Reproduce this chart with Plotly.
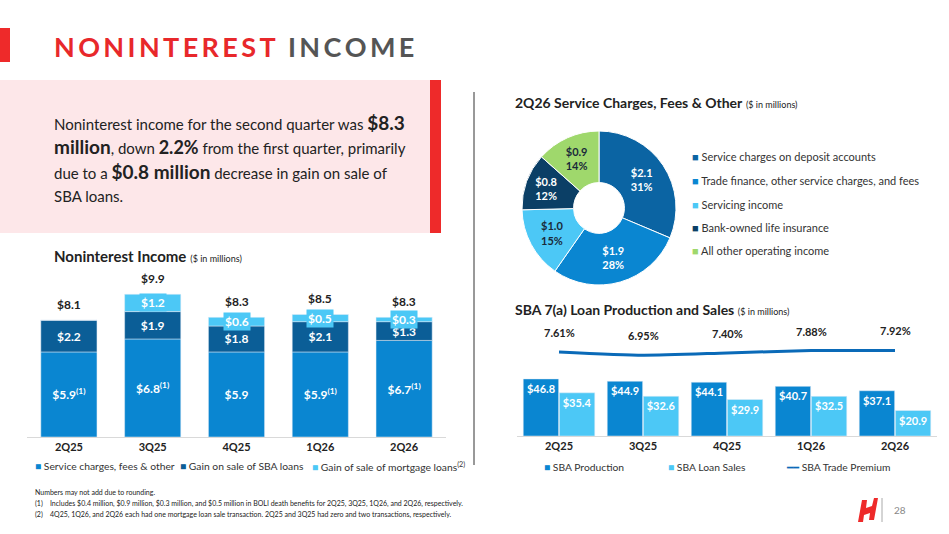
import plotly.graph_objects as go

W, H = 949, 534
FONT = "Lato"

# ── Noninterest income (stacked) ──────────────────────────────────────────
quarters = ["2Q25", "3Q25", "4Q25", "1Q26", "2Q26"]
service_fees = [5.9, 6.8, 5.9, 5.9, 6.7]
service_note = [True, True, False, True, True]
sba_gain = [2.2, 1.9, 1.8, 2.1, 1.3]
mortgage_gain = [0.0, 1.2, 0.6, 0.5, 0.3]
totals = [8.1, 9.9, 8.3, 8.5, 8.3]

# ── 2Q26 service charges donut ────────────────────────────────────────────
pie_labels = ["Service charges on deposit accounts",
              "Trade finance, other service charges, and fees",
              "Servicing income", "Bank-owned life insurance",
              "All other operating income"]
pie_values = [2.1, 1.9, 1.0, 0.8, 0.9]
pie_pcts = [31, 28, 15, 12, 14]
pie_colors = ["#0b64a3", "#0a86d1", "#4cc8f6", "#0b3f66", "#9fd86c"]

# ── SBA 7(a) ──────────────────────────────────────────────────────────────
sba_production = [46.8, 44.9, 44.1, 40.7, 37.1]
sba_sales = [35.4, 32.6, 29.9, 32.5, 20.9]
sba_premium = [7.61, 6.95, 7.40, 7.88, 7.92]

C_SVC, C_SBA, C_MTG = "#0a86d1", "#0b5e97", "#4cc8f6"
C_LINE = "#0a6ab8"


def px(x):
    return x / W


def py(y):
    return 1 - y / H


fig = go.Figure()

lbl_font = dict(color="white", size=12, family=FONT, weight="bold")
fig.add_trace(go.Bar(
    x=quarters, y=service_fees, name="Service charges, fees & other",
    marker_color=C_SVC, width=0.67, offsetgroup="a",
    text=[f"$%.1f%s" % (v, "<sup>(1)</sup>" if n else "") for v, n in zip(service_fees, service_note)],
    textposition="inside", insidetextanchor="middle", constraintext="none", textangle=0,
    textfont=lbl_font, xaxis="x", yaxis="y"))
fig.add_trace(go.Bar(
    x=quarters, y=sba_gain, name="Gain on sale of SBA loans", base=service_fees,
    marker_color=C_SBA, width=0.67, offsetgroup="a",
    text=[f"${v:.1f}" for v in sba_gain],
    textposition="inside", insidetextanchor="middle", constraintext="none", textangle=0,
    textfont=lbl_font, xaxis="x", yaxis="y"))
fig.add_trace(go.Bar(
    x=quarters, y=mortgage_gain, name="Gain of sale of mortgage loans<sup>(2)</sup>",
    base=[s + g for s, g in zip(service_fees, sba_gain)],
    marker_color=C_MTG, width=0.67, offsetgroup="a", xaxis="x", yaxis="y"))

ann = []
for q, s, g, m, t in zip(quarters, service_fees, sba_gain, mortgage_gain, totals):
    ann.append(dict(x=q, y=t, xref="x", yref="y", text=f"<b>${t:.1f}</b>", showarrow=False,
                    yanchor="bottom", yshift=6, font=dict(size=12, color="#222")))
    if m > 0:
        ann.append(dict(x=q, y=s + g + m / 2, xref="x", yref="y", text=f"<b>${m:.1f}</b>",
                        showarrow=False, bgcolor=C_MTG, borderpad=1, yanchor="middle",
                        font=dict(size=12, color="white")))

# donut
fig.add_trace(go.Pie(
    labels=pie_labels, values=pie_values, hole=0.33, sort=False, direction="clockwise",
    rotation=0, marker=dict(colors=pie_colors, line=dict(color="white", width=1)),
    text=[f"${v:.1f}<br>{p}%" for v, p in zip(pie_values, pie_pcts)],
    textinfo="text", textposition="inside", insidetextorientation="horizontal",
    textfont=dict(color=["white", "white", "#1a2a3a", "white", "#1a2a3a"], size=11, family=FONT, weight="bold"),
    domain=dict(x=[px(522), px(676)], y=[py(285), py(131)])))

# SBA bars + line
sba_font = dict(color="white", size=11, family=FONT, weight="bold")
fig.add_trace(go.Bar(x=quarters, y=sba_production, name="SBA Production", marker_color=C_SVC,
                     offsetgroup="p", text=[f"${v:.1f}" for v in sba_production], textposition="inside",
                     insidetextanchor="end", constraintext="none", textangle=0, textfont=sba_font,
                     xaxis="x2", yaxis="y3"))
fig.add_trace(go.Bar(x=quarters, y=sba_sales, name="SBA Loan Sales", marker_color=C_MTG,
                     offsetgroup="s", text=[f"${v:.1f}" for v in sba_sales], textposition="inside",
                     insidetextanchor="end", constraintext="none", textangle=0, textfont=sba_font,
                     xaxis="x2", yaxis="y3"))
fig.add_trace(go.Scatter(x=quarters, y=sba_premium, name="SBA Trade Premium", mode="lines",
                         line=dict(color=C_LINE, width=3, shape="spline", smoothing=0.6),
                         xaxis="x2", yaxis="y4"))
for q, v in zip(quarters, sba_premium):
    ann.append(dict(x=q, y=v, xref="x2", yref="y4", text=f"<b>{v:.2f}%</b>", showarrow=False,
                    yanchor="bottom", yshift=11, font=dict(size=11, color="#222")))

axis_x = dict(type="category", showgrid=False, showline=True, linecolor="#d9d9d9", ticks="",
              tickfont=dict(size=11, color="#222", family=FONT, weight="bold"), fixedrange=True)
fig.update_layout(
    width=W, height=H, margin=dict(l=0, r=0, t=0, b=0), autosize=False,
    paper_bgcolor="white", plot_bgcolor="rgba(0,0,0,0)",
    font=dict(family=FONT, color="#222"),
    barmode="group", bargap=0.14, bargroupgap=0.02,
    xaxis=dict(axis_x, domain=[px(27), px(446)]),
    yaxis=dict(domain=[py(437), py(264)], range=[0, 12], visible=False),
    xaxis2=dict(axis_x, domain=[px(517), px(937)], anchor="y3"),
    yaxis3=dict(domain=[py(436), py(300)], range=[0, 111.5], visible=False),
    yaxis4=dict(domain=[py(370), py(340)], range=[4, 10], visible=False, anchor="x2"),
    showlegend=False,
)

# legends drawn as text so entries sit tight like the slide
legend_rows = [
    (466, [("■", C_SVC, "Service charges, fees & other"), ("■", C_SBA, "Gain on sale of SBA loans"),
           ("■", C_MTG, "Gain of sale of mortgage loans<sup>(2)</sup>")], [33, 178, 310]),
    (467, [("■", C_SVC, "SBA Production"), ("■", C_MTG, "SBA Loan Sales"),
           ("━━", C_LINE, "SBA Trade Premium")], [542, 666, 784]),
]
for y, items, xs in legend_rows:
    for (sym, col, lab), x in zip(items, xs):
        ann.append(dict(x=px(x), y=py(y), xref="paper", yref="paper", xanchor="left", yanchor="middle",
                        text=f"<span style='color:{col}'>{sym}</span> {lab}", showarrow=False,
                        font=dict(size=10.3, color="#333")))

for i, (lab, col) in enumerate(zip(pie_labels, pie_colors)):
    ann.append(dict(x=px(690), y=py(157 + i * 23.5), xref="paper", yref="paper", xanchor="left",
                    yanchor="middle", text=f"<span style='color:{col}'>■</span> {lab}", showarrow=False,
                    font=dict(size=11, color="#333")))

shapes = [
    dict(type="rect", xref="paper", yref="paper", x0=px(-6), x1=px(10), y0=py(62), y1=py(28),
         fillcolor="#ee2a2a", line_width=0, layer="below"),
    dict(type="rect", xref="paper", yref="paper", x0=0, x1=px(440), y0=py(233), y1=py(80),
         fillcolor="#fde7e9", line_width=0, layer="below"),
    dict(type="rect", xref="paper", yref="paper", x0=px(430), x1=px(441), y0=py(233), y1=py(80),
         fillcolor="#ee2a2a", line_width=0, layer="below"),
    dict(type="line", xref="paper", yref="paper", x0=px(474), x1=px(474), y0=py(465), y1=py(92),
         line=dict(color="#333", width=1)),
    dict(type="line", xref="paper", yref="paper", x0=px(882), x1=px(882), y0=py(522), y1=py(498),
         line=dict(color="#aaa", width=1)),
    dict(type="path", xref="paper", yref="paper",
         path=f"M {px(858)} {py(522)} L {px(862)} {py(500)} L {px(867)} {py(500)} L {px(866)} {py(508)} "
              f"L {px(872)} {py(506)} L {px(874)} {py(498)} L {px(878)} {py(498)} L {px(874)} {py(520)} "
              f"L {px(869)} {py(520)} L {px(870)} {py(513)} L {px(864)} {py(515)} L {px(863)} {py(522)} Z",
         fillcolor="#ee2a2a", line_width=0),
]

ts = "\u2009"
title_red = ts.join("NONINTEREST")
title_gray = ts.join("INCOME")
body_lines = [
    "Noninterest income for the second quarter was <b style='font-size:19px'>$8.3</b>",
    "<b style='font-size:19px'>million</b>, down <b style='font-size:18px'>2.2%</b> from the first quarter, primarily",
    "due to a <b style='font-size:19px'>$0.8 million</b> decrease in gain on sale of",
    "SBA loans.",
]
texts = [
    (52, 47, f"<span style='color:#e8282b'>{title_red}</span>  <span style='color:#555'>{title_gray}</span>", 27, "bold"),
    (52, 256, "<b>Noninterest Income</b> <span style='font-size:9px'>($ in millions)</span>", 15, "normal"),
    (513, 102, "<b>2Q26 Service Charges, Fees & Other</b> <span style='font-size:9px'>($ in millions)</span>", 14, "normal"),
    (513, 309, "<b>SBA 7(a) Loan Production and Sales</b> <span style='font-size:9px'>($ in millions)</span>", 14, "normal"),
    (33, 492, "Numbers may not add due to rounding.", 7, "normal"),
    (33, 503, "(1)    Includes $0.4 million, $0.9 million, $0.3 million, and $0.5 million in BOLI death benefits for 2Q25, 3Q25, 1Q26, and 2Q26, respectively.", 7, "normal"),
    (33, 514, "(2)    4Q25, 1Q26, and 2Q26 each had one mortgage loan sale transaction. 2Q25 and 3Q25 had zero and two transactions, respectively.", 7, "normal"),
    (892, 510, "28", 10, "normal"),
]
texts += [(52, 122 + i * 24.5, line, 15, "normal") for i, line in enumerate(body_lines)]
for x, y, t, s, w in texts:
    ann.append(dict(x=px(x), y=py(y), xref="paper", yref="paper", xanchor="left", yanchor="middle",
                    align="left", text=t, showarrow=False,
                    font=dict(size=s, color="#888" if t == "28" else "#222", weight=w)))

fig.update_layout(shapes=shapes, annotations=ann)
fig.write_html("out.html", config={"responsive": False, "displayModeBar": False},
               post_script="document.body.style.margin='0';document.body.style.overflow='hidden';")
